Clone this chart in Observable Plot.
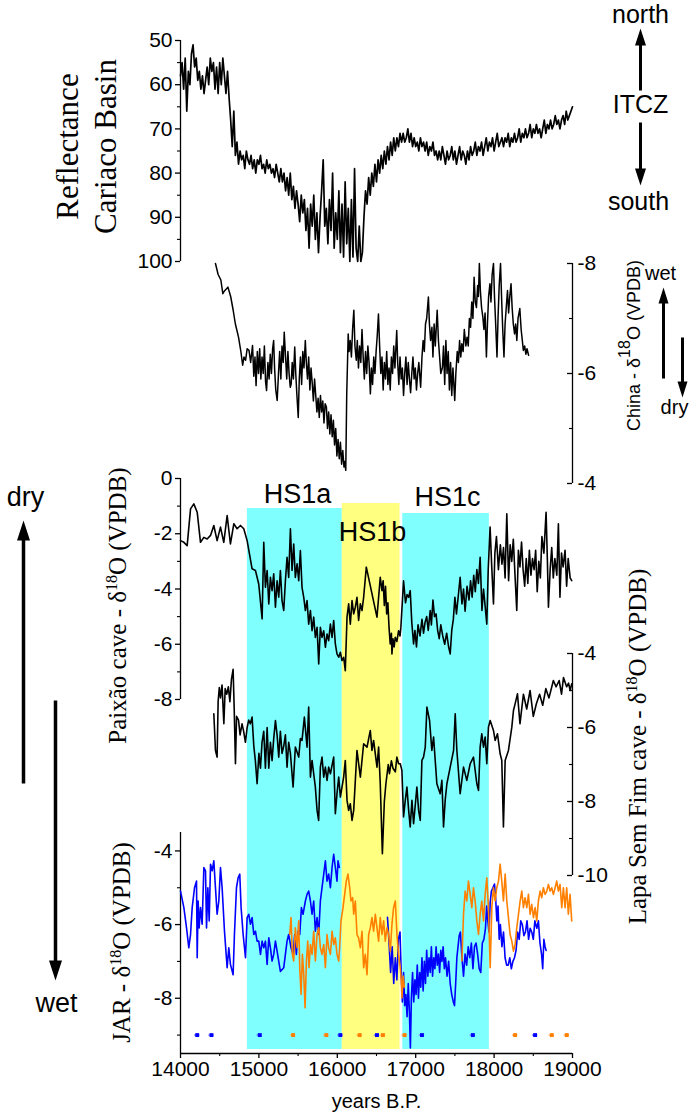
<!DOCTYPE html>
<html><head><meta charset="utf-8">
<script src="https://cdn.jsdelivr.net/npm/d3@7"></script>
<script src="https://cdn.jsdelivr.net/npm/@observablehq/plot@0.6"></script>
<style>
html,body{margin:0;padding:0;background:#fff;overflow:hidden;}
#chart{position:relative;width:700px;height:1119px;}
#chart svg{position:absolute;left:0;top:0;}
</style></head><body><div id="chart"></div>
<script>
// ---------------- DATA ----------------
const yearTicks = [14000, 15000, 16000, 17000, 18000, 19000];
const yearMinor = [14500, 15500, 16500, 17500, 18500];

const bands = [
  {name: "HS1a", start: 14853, end: 16064},
  {name: "HS1b", start: 16064, end: 16800},
  {name: "HS1c", start: 16835, end: 17940}
];

// Cariaco Basin reflectance, sampled every 20 years from 14000
const cariacoStart = 14000, cariacoStep = 20;
const cariacoValues = [
58,55,61,54,66,57,60,53,51,56,54,59,57,61,58,62,59,56,60,54,57,55,61,56,62,55,60,54,58,62,57,63,68,
74,66,76,73,78,75,77,76,79,75,77,78,76,79,77,80,77,78,76,79,78,80,77,79,78,80,79,81,78,80,82,79,82,
80,84,81,85,80,86,83,88,84,87,91,85,89,86,93,88,97,87,92,85,95,89,98,90,84,77,92,88,96,86,93,80,97,
89,95,84,98,87,99,82,96,88,100,86,99,79,97,100,92,100,98,90,84,87,81,85,80,83,78,82,77,80,76,79,75,78,
74,77,73,76,72,75,72,74,71,73,71,73,72,70,73,71,74,72,74,73,75,72,74,73,75,73,76,74,75,73,76,75,77,
75,77,74,76,78,75,77,76,74,77,75,78,76,74,77,75,76,78,75,77,74,76,75,73,76,74,75,73,76,74,72,75,73,
74,72,75,73,71,74,73,72,74,72,73,71,74,72,73,71,73,72,70,73,71,72,70,72,71,69,72,70,71,69,71,70,72,
70,68,71,69,70,68,70,69,67,69,68,70,68,67,69,66,68,67,66,65
];
const cariacoTicks = [50, 60, 70, 80, 90, 100];
const cariacoMinor = [55, 65, 75, 85, 95];

// China speleothem d18O  [year, value]
const china = [
[14446,-8.0],[14480,-7.8],[14515,-7.7],[14540,-7.45],[14560,-7.5],[14605,-7.57],[14640,-7.4],[14672,-7.15],[14700,-6.9],[14740,-6.66],
[14770,-6.4],[14793,-6.15],[14810,-6.3],[14830,-6.24],[14850,-6.45],[14874,-6.42],[14895,-6.2],[14919,-6.51],[14935,-5.95],[14950,-6.3],
[14964,-5.78],[14980,-6.4],[14995,-6.0],[15010,-6.45],[15025,-5.9],[15040,-6.3],[15055,-6.0],[15070,-6.5],[15085,-5.85],[15098,-5.69],
[15115,-6.2],[15130,-5.9],[15145,-6.35],[15160,-6.0],[15175,-6.45],[15188,-6.6],[15200,-6.1],[15215,-5.7],[15233,-5.51],[15250,-6.0],
[15265,-6.4],[15280,-5.9],[15295,-6.5],[15310,-6.2],[15323,-6.75],[15340,-6.3],[15355,-5.9],[15370,-6.4],[15385,-6.0],[15400,-5.75],
[15412,-5.81],[15425,-6.2],[15440,-5.9],[15457,-6.48],[15470,-6.0],[15485,-5.6],[15502,-5.2],[15515,-5.9],[15530,-6.3],[15545,-5.8],
[15560,-6.4],[15575,-6.1],[15592,-6.6],[15605,-6.2],[15620,-5.9],[15635,-6.3],[15650,-5.7],[15665,-6.1],[15681,-5.81],[15695,-5.5],
[15710,-5.9],[15725,-5.6],[15740,-5.3],[15755,-5.55],[15770,-5.2],[15785,-5.6],[15800,-5.3],[15815,-5.5],[15830,-5.1],[15845,-5.45],
[15861,-5.39],[15875,-5.0],[15890,-5.3],[15905,-4.9],[15920,-5.25],[15935,-4.85],[15950,-5.15],[15965,-4.7],[15980,-5.0],[15995,-4.5],
[16010,-4.8],[16025,-4.45],[16040,-4.75],[16055,-4.35],[16070,-4.6],[16085,-4.3],[16095,-4.4],[16108,-4.24],[16120,-5.6],[16139,-6.72],
[16150,-6.4],[16165,-6.6],[16180,-6.3],[16195,-6.8],[16211,-7.15],[16225,-6.5],[16242,-6.24],[16255,-6.6],[16270,-6.1],[16285,-6.5],
[16300,-6.2],[16315,-6.8],[16330,-6.3],[16345,-5.9],[16360,-6.4],[16375,-6.0],[16390,-6.5],[16405,-6.2],[16422,-5.63],[16435,-6.1],
[16450,-5.8],[16465,-6.3],[16480,-6.0],[16495,-6.4],[16510,-6.7],[16525,-7.08],[16540,-6.5],[16555,-6.0],[16570,-6.3],[16585,-5.7],
[16600,-6.2],[16615,-5.9],[16630,-6.4],[16645,-5.8],[16660,-6.1],[16675,-5.7],[16690,-6.3],[16705,-6.0],[16720,-6.5],[16735,-6.1],
[16758,-6.78],[16770,-6.2],[16785,-5.8],[16800,-6.3],[16815,-5.9],[16830,-6.1],[16845,-5.6],[16860,-6.0],[16875,-6.3],[16890,-5.8],
[16905,-6.2],[16920,-5.9],[16935,-5.65],[16950,-6.0],[16965,-6.3],[16980,-5.9],[16995,-6.1],[17010,-5.7],[17025,-6.0],[17040,-6.2],
[17063,-5.75],[17080,-6.3],[17095,-6.6],[17110,-6.4],[17125,-6.9],[17140,-7.0],[17162,-7.39],[17175,-6.9],[17190,-6.6],[17207,-6.84],
[17220,-6.3],[17235,-6.9],[17250,-6.5],[17274,-7.15],[17290,-6.6],[17305,-6.3],[17320,-6.0],[17341,-6.11],[17355,-6.5],[17370,-5.8],
[17385,-6.6],[17400,-6.0],[17415,-6.4],[17430,-5.7],[17445,-6.2],[17460,-5.6],[17475,-6.1],[17498,-5.51],[17512,-6.0],[17530,-6.4],
[17545,-6.2],[17560,-6.6],[17575,-6.3],[17588,-6.54],[17605,-6.4],[17620,-6.8],[17640,-6.5],[17655,-6.66],[17670,-6.5],[17685,-7.0],
[17700,-6.84],[17715,-7.3],[17730,-7.0],[17745,-7.75],[17760,-7.3],[17775,-7.2],[17790,-7.6],[17800,-7.4],[17812,-8.0],[17825,-7.5],
[17840,-7.2],[17857,-7.02],[17870,-6.8],[17885,-7.1],[17902,-6.3],[17915,-6.9],[17930,-7.4],[17947,-7.63],[17960,-7.3],[17975,-7.8],
[17992,-8.0],[18005,-7.4],[18020,-6.9],[18037,-6.3],[18050,-7.0],[18065,-7.6],[18082,-8.0],[18095,-7.4],[18110,-6.8],[18126,-6.3],
[18140,-6.9],[18155,-7.2],[18171,-7.51],[18185,-7.1],[18200,-7.4],[18216,-7.63],[18230,-7.2],[18245,-6.9],[18261,-6.72],[18275,-6.9],
[18290,-6.6],[18305,-7.0],[18328,-7.18],[18345,-6.8],[18360,-6.6],[18373,-6.42],[18390,-6.5],[18405,-6.35],[18420,-6.45],[18440,-6.33]
];
const chinaTicks = [-8, -6, -4];
const chinaMinor = [-7, -5];

// Paixao cave d18O [year, value]
const paixao = [
[14000,-2.25],[14043,-2.31],[14085,-2.43],[14128,-1.1],[14170,-0.92],[14213,-1.22],[14255,-2.31],[14298,-2.13],[14340,-2.19],[14383,-2.06],
[14425,-1.7],[14467,-2.25],[14510,-1.76],[14552,-2.31],[14595,-1.34],[14637,-2.37],[14680,-1.64],[14722,-1.82],[14765,-1.7],[14807,-1.82],
[14850,-2.25],[14913,-3.27],[14956,-3.33],[14998,-3.82],[15041,-5.08],[15062,-2.31],[15083,-3.94],[15105,-3.33],[15126,-4.54],[15147,-3.58],
[15168,-4.06],[15189,-3.45],[15211,-4.66],[15232,-3.7],[15253,-4.3],[15274,-3.33],[15295,-4.42],[15317,-4.78],[15338,-3.7],[15359,-2.85],
[15380,-3.58],[15402,-1.82],[15423,-3.33],[15444,-2.37],[15465,-3.58],[15487,-3.09],[15508,-3.7],[15529,-2.61],[15550,-3.94],[15572,-4.3],
[15593,-4.78],[15614,-4.42],[15635,-5.27],[15657,-4.78],[15678,-5.51],[15699,-5.02],[15720,-5.75],[15742,-5.39],[15763,-6.71],[15784,-5.39],
[15805,-5.75],[15827,-5.51],[15848,-6.11],[15869,-5.63],[15890,-5.87],[15912,-5.27],[15933,-5.75],[15954,-5.14],[15975,-5.99],[15996,-6.35],
[16018,-6.47],[16039,-6.29],[16060,-6.59],[16081,-6.47],[16102,-6.96],[16124,-5.02],[16145,-4.54],[16166,-5.27],[16188,-4.42],[16209,-4.9],
[16230,-4.66],[16251,-4.3],[16272,-5.14],[16294,-4.54],[16315,-4.78],[16336,-4.3],[16370,-3.21],[16506,-5.02],[16548,-3.58],[16570,-4.06],
[16585,-3.7],[16600,-4.6],[16615,-3.9],[16630,-4.9],[16645,-4.5],[16660,-5.4],[16675,-5.99],[16690,-5.6],[16697,-6.35],[16710,-5.8],
[16725,-6.1],[16739,-5.75],[16760,-5.9],[16782,-5.51],[16800,-5.7],[16811,-5.39],[16845,-3.7],[16870,-4.5],[16890,-4.2],[16910,-4.3],
[16930,-4.06],[16950,-5.2],[16973,-5.99],[16990,-5.5],[17010,-6.1],[17030,-5.3],[17055,-5.7],[17080,-5.1],[17100,-5.6],[17120,-5.2],
[17140,-5.0],[17160,-5.5],[17185,-4.78],[17200,-5.3],[17220,-4.4],[17240,-5.0],[17260,-4.9],[17280,-5.5],[17300,-5.8],[17320,-5.3],
[17345,-5.7],[17370,-6.0],[17395,-5.6],[17420,-6.1],[17440,-6.35],[17460,-5.5],[17480,-5.1],[17500,-4.3],[17520,-4.9],[17545,-4.2],
[17567,-3.58],[17590,-4.54],[17610,-4.0],[17630,-4.8],[17655,-3.9],[17680,-4.4],[17700,-3.7],[17720,-4.3],[17740,-3.5],[17760,-4.1],
[17780,-3.3],[17800,-3.8],[17822,-2.85],[17845,-4.78],[17865,-4.0],[17885,-4.6],[17907,-5.27],[17925,-3.3],[17949,-1.76],[17970,-3.2],
[17992,-4.54],[18010,-2.7],[18030,-2.1],[18055,-3.3],[18080,-2.4],[18100,-3.1],[18120,-2.5],[18140,-3.6],[18162,-1.28],[18185,-3.7],
[18205,-2.4],[18225,-3.0],[18245,-2.2],[18265,-3.4],[18289,-4.78],[18310,-2.6],[18330,-3.2],[18350,-2.3],[18370,-3.3],[18390,-3.9],
[18410,-2.9],[18430,-3.8],[18450,-2.6],[18470,-3.5],[18490,-2.9],[18510,-3.3],[18530,-2.6],[18550,-4.1],[18570,-3.0],[18590,-3.6],
[18610,-2.1],[18635,-2.7],[18663,-1.22],[18680,-3.0],[18693,-4.66],[18715,-3.3],[18735,-2.5],[18755,-3.6],[18775,-2.9],[18800,-3.5],
[18820,-1.64],[18840,-4.3],[18860,-2.7],[18880,-3.2],[18905,-2.6],[18925,-3.9],[18945,-2.9],[18970,-3.6],[18990,-3.7]
];
const paixaoTicks = [0, -2, -4, -6, -8];
const paixaoMinor = [-1, -3, -5, -7];

// Lapa Sem Fim cave d18O [year, value]
const lapa = [
[14425,-5.63],[14446,-6.62],[14467,-6.8],[14480,-5.3],[14495,-4.92],[14510,-5.2],[14530,-4.85],[14553,-5.9],[14570,-4.95],[14590,-5.1],
[14610,-4.9],[14630,-5.3],[14650,-4.7],[14671,-4.43],[14685,-5.5],[14701,-6.98],[14715,-5.7],[14740,-5.8],[14760,-6.2],[14785,-5.9],
[14805,-6.1],[14828,-6.4],[14850,-6.0],[14870,-5.8],[14890,-5.9],[14913,-5.72],[14935,-6.5],[14955,-6.9],[14977,-7.52],[15000,-6.7],
[15020,-7.1],[15040,-6.4],[15062,-6.1],[15083,-7.1],[15105,-6.0],[15126,-7.1],[15147,-6.4],[15168,-6.9],[15189,-6.3],[15211,-5.81],
[15232,-6.2],[15253,-6.8],[15274,-6.1],[15295,-6.7],[15317,-6.5],[15338,-6.2],[15359,-7.07],[15380,-6.4],[15402,-6.7],[15436,-7.61],
[15465,-6.53],[15508,-6.8],[15529,-6.3],[15550,-6.35],[15580,-5.72],[15614,-6.53],[15635,-5.45],[15657,-7.34],[15678,-6.89],[15699,-7.25],
[15720,-7.61],[15742,-8.24],[15762,-8.51],[15784,-7.07],[15805,-6.8],[15827,-7.34],[15848,-7.07],[15869,-7.43],[15890,-7.07],[15912,-7.25],
[15954,-6.8],[15975,-8.33],[15996,-7.79],[16018,-7.34],[16039,-7.88],[16060,-7.61],[16081,-7.34],[16102,-6.89],[16124,-7.97],[16145,-8.24],
[16166,-8.06],[16188,-8.51],[16209,-8.24],[16251,-6.62],[16294,-7.34],[16336,-6.44],[16379,-6.53],[16421,-6.08],[16442,-6.62],[16463,-6.35],
[16506,-7.07],[16527,-6.53],[16548,-7.52],[16575,-9.41],[16600,-8.0],[16620,-7.52],[16650,-7.0],[16665,-7.25],[16690,-6.9],[16710,-7.1],
[16740,-7.2],[16760,-6.8],[16782,-6.98],[16803,-6.98],[16824,-7.16],[16845,-8.42],[16867,-7.97],[16888,-7.61],[16910,-8.24],[16930,-8.69],
[16952,-7.97],[16973,-8.6],[17015,-7.61],[17037,-8.24],[17058,-8.51],[17079,-6.89],[17100,-6.8],[17122,-6.53],[17143,-5.45],[17177,-5.81],
[17206,-6.62],[17228,-6.26],[17270,-7.52],[17312,-7.79],[17334,-7.43],[17355,-8.69],[17376,-7.97],[17398,-7.52],[17440,-7.07],[17483,-6.62],
[17504,-5.63],[17525,-6.62],[17567,-7.79],[17610,-7.07],[17652,-7.43],[17695,-6.98],[17737,-6.8],[17780,-7.52],[17801,-7.7],[17822,-6.53],
[17843,-6.17],[17865,-6.53],[17886,-6.26],[17907,-6.98],[17928,-5.99],[17950,-5.81],[17992,-6.08],[18013,-6.35],[18043,-6.17],[18077,-6.71],
[18098,-6.89],[18119,-8.69],[18141,-6.89],[18183,-6.62],[18226,-5.99],[18247,-5.54],[18268,-5.36],[18298,-5.09],[18330,-5.9],[18374,-5.1],
[18416,-5.5],[18459,-5.0],[18500,-5.7],[18540,-5.35],[18580,-5.1],[18620,-5.4],[18660,-4.95],[18700,-5.2],[18756,-4.73],[18790,-4.9],
[18830,-4.73],[18860,-5.1],[18885,-4.65],[18925,-4.9],[18950,-4.8],[18970,-5.0],[18990,-4.82]
];
const lapaTicks = [-4, -6, -8, -10];
const lapaMinor = [-5, -7, -9];

// JAR d18O, blue record (two segments) and orange record (two segments)
const jarBlueA = [
[14000,-5.09],[14043,-5.54],[14077,-6.09],[14106,-6.63],[14128,-6.27],[14149,-5.54],[14179,-5.0],[14204,-4.82],[14213,-6.9],[14225,-5.36],
[14238,-6.09],[14255,-5.54],[14276,-5.99],[14298,-4.45],[14319,-4.54],[14332,-6.09],[14349,-5.0],[14366,-5.9],[14383,-4.36],[14404,-4.54],
[14425,-4.27],[14446,-5.0],[14467,-5.72],[14489,-5.36],[14510,-4.45],[14531,-5.0],[14561,-6.18],[14595,-7.17],[14616,-6.63],[14637,-7.08],
[14671,-7.36],[14688,-6.27],[14714,-5.0],[14735,-4.73],[14756,-4.63],[14773,-5.54],[14799,-6.27],[14829,-6.9],[14850,-5.81],[14871,-5.72],
[14892,-5.99],[14913,-5.81],[14935,-6.27],[14956,-6.18],[14977,-6.45],[14998,-6.45],[15020,-6.81],[15041,-6.45],[15062,-6.63],[15083,-6.45],
[15105,-7.08],[15126,-6.36],[15147,-6.63],[15168,-6.99],[15189,-6.81],[15211,-6.45],[15232,-6.72],[15274,-7.27],[15317,-7.17],[15359,-6.45],
[15380,-6.27],[15410,-6.63],[15436,-6.81],[15457,-6.27],[15478,-6.81],[15499,-6.18],[15521,-6.27],[15542,-5.54],[15563,-5.72],[15593,-5.36],
[15614,-5.18],[15635,-5.09],[15657,-5.36],[15678,-5.72],[15699,-5.36],[15720,-6.18],[15742,-5.81],[15763,-6.27],[15784,-5.36],[15805,-5.0],
[15827,-4.63],[15848,-4.27],[15869,-4.82],[15890,-4.63],[15912,-5.0],[15933,-4.45],[15954,-4.09],[15975,-4.45],[15996,-4.82],[16009,-4.27],
[16026,-4.45]
];
const jarBlueB = [
[16640,-5.8],[16660,-6.5],[16680,-7.3],[16700,-6.6],[16720,-7.6],[16740,-6.9],[16760,-7.5],[16780,-6.4],[16800,-6.2],[16815,-7.3],
[16830,-8.1],[16845,-7.3],[16860,-8.2],[16875,-7.9],[16890,-8.5],[16905,-7.6],[16920,-8.4],[16932,-9.35],[16945,-8.0],[16960,-7.3],
[16975,-8.1],[16990,-7.5],[17005,-7.9],[17020,-7.1],[17035,-8.0],[17050,-7.3],[17065,-7.7],[17080,-6.9],[17095,-7.8],[17110,-7.0],
[17125,-7.6],[17140,-6.7],[17155,-7.4],[17170,-6.9],[17185,-7.3],[17200,-6.6],[17215,-7.4],[17230,-6.9],[17245,-7.2],[17260,-6.6],
[17275,-7.1],[17290,-6.8],[17305,-7.3],[17320,-6.7],[17335,-7.0],[17350,-6.6],[17365,-7.2],[17380,-6.9],[17400,-7.4],[17420,-7.0],
[17440,-7.6],[17460,-7.9],[17480,-8.1],[17495,-8.2],[17510,-7.6],[17525,-6.9],[17540,-6.6],[17555,-6.3],[17570,-6.2],[17590,-6.9],
[17610,-7.4],[17630,-6.8],[17650,-7.1],[17670,-6.6],[17690,-6.9],[17710,-6.5],[17730,-7.2],[17750,-6.6],[17770,-6.5],[17790,-6.8],
[17810,-7.2],[17830,-7.3],[17850,-6.5],[17870,-6.4],[17890,-6.1],[17905,-5.5],[17920,-5.9],[17935,-6.2],[17950,-5.4],[17965,-5.1],
[17985,-5.0],[18005,-4.9],[18020,-5.3],[18035,-5.9],[18050,-5.5],[18065,-6.4],[18080,-6.0],[18100,-6.6],[18120,-6.2],[18140,-6.9],
[18160,-7.1],[18180,-7.1],[18200,-6.9],[18220,-7.2],[18240,-7.0],[18260,-6.9],[18280,-6.7],[18300,-6.2],[18320,-6.4],[18340,-5.9],
[18360,-6.0],[18380,-6.3],[18400,-6.2],[18420,-5.9],[18440,-6.4],[18460,-6.1],[18480,-6.2],[18500,-6.4],[18520,-5.9],[18545,-6.1],
[18565,-5.9],[18585,-6.5],[18605,-6.8],[18620,-7.2],[18635,-6.4],[18650,-6.6],[18663,-6.7]
];
const jarOrangeA = [
[15393,-6.27],[15410,-5.81],[15427,-6.81],[15444,-6.99],[15465,-6.09],[15487,-6.63],[15508,-5.9],[15521,-7.17],[15538,-7.9],[15555,-6.81],
[15572,-7.36],[15589,-8.26],[15606,-6.99],[15623,-6.45],[15640,-7.17],[15657,-6.54],[15678,-6.81],[15699,-6.18],[15720,-6.99],[15742,-6.27],
[15763,-6.09],[15784,-6.63],[15805,-6.81],[15827,-6.54],[15848,-7.17],[15869,-6.27],[15890,-6.63],[15912,-6.81],[15933,-6.18],[15954,-6.54],
[15975,-6.36],[15996,-6.81],[16018,-6.99],[16030,-6.63],[16047,-5.9],[16073,-5.54],[16094,-5.18],[16115,-4.82],[16136,-4.63],[16158,-5.0],
[16175,-5.36],[16196,-5.27],[16209,-5.72],[16230,-5.36],[16251,-6.27],[16272,-6.36],[16294,-6.63],[16315,-6.18],[16336,-7.17],[16357,-6.81],
[16379,-7.36],[16400,-6.27],[16421,-6.09],[16442,-5.81],[16463,-6.18],[16485,-5.72],[16506,-6.09],[16527,-6.45],[16548,-5.81],[16570,-6.27],
[16591,-5.9],[16612,-6.45],[16633,-6.09],[16655,-6.27],[16676,-6.72],[16697,-5.99],[16718,-5.54],[16740,-5.36],[16761,-6.27],[16782,-6.81],
[16803,-7.17],[16815,-7.5],[16825,-7.99],[16840,-7.4],[16855,-7.7]
];
const jarOrangeB = [
[17589,-6.99],[17610,-5.72],[17631,-5.09],[17652,-5.36],[17673,-4.82],[17695,-5.18],[17716,-5.54],[17737,-5.0],[17758,-5.36],[17780,-5.9],
[17801,-6.27],[17822,-5.72],[17843,-5.36],[17865,-5.9],[17886,-5.18],[17907,-4.73],[17928,-5.54],[17950,-7.17],[17971,-5.54],[17992,-5.0],
[18013,-5.36],[18034,-5.0],[18056,-4.82],[18077,-4.36],[18098,-4.82],[18119,-5.36],[18141,-4.63],[18162,-5.36],[18183,-5.81],[18204,-6.27],
[18226,-6.45],[18247,-6.72],[18268,-6.54],[18289,-6.09],[18311,-5.72],[18332,-5.36],[18353,-5.09],[18374,-5.54],[18395,-5.27],[18417,-5.54],
[18438,-5.18],[18459,-5.72],[18480,-5.45],[18502,-5.81],[18523,-5.54],[18544,-5.9],[18565,-5.36],[18587,-5.09],[18608,-5.27],[18629,-5.0],
[18650,-5.18],[18672,-5.09],[18693,-4.91],[18714,-5.09],[18735,-5.0],[18756,-5.18],[18778,-5.0],[18799,-4.82],[18820,-5.09],[18841,-4.91],
[18863,-5.54],[18884,-5.0],[18905,-5.54],[18926,-5.0],[18947,-5.72],[18969,-5.18],[18990,-5.9]
];
// dating points (plotted on the -9 line)
const jarBlueDates = [14213, 14395, 15011, 16039, 16506, 17080, 17729, 18523];
const jarOrangeDates = [15436, 15860, 16285, 16582, 16858, 18268, 18736, 18927];
const jarDateLevel = -9;
const jarTicks = [-4, -6, -8];
const jarMinor = [-5, -7, -9];

// ---------------- STYLE ----------------
const W = 700, H = 1119, ML = 180, MR = 128;
const SANS = "Liberation Sans, Arial, Helvetica, sans-serif";
const SERIF = "Liberation Serif, Times New Roman, Times, serif";
const TICKFS = 21;
const BLUE = "#0000ff", ORANGE = "#ff8000", CYAN = "#80ffff", YELLOW = "#ffff80";
const XMIN = yearTicks[0], XMAX = yearTicks[yearTicks.length - 1];

const cariaco = cariacoValues.map((v, i) => [cariacoStart + i * cariacoStep, v]);

function panel({top, bottom, domain, marks}) {
  return Plot.plot({
    width: W, height: H,
    marginLeft: ML, marginRight: MR, marginTop: top, marginBottom: H - bottom,
    x: {domain: [XMIN, XMAX], axis: null},
    y: {domain, axis: null},
    style: {background: "transparent", overflow: "visible", fontFamily: SANS},
    marks
  });
}

function yAxisMarks(side, ticks, minor, lo, hi) {
  const xa = side === "left" ? XMIN : XMAX;
  return [
    Plot.ruleX([xa], {y1: lo, y2: hi, stroke: "black", strokeWidth: 1.3}),
    Plot.ruleY(ticks, {y: d => d, x1: xa, x2: xa, insetLeft: -5, stroke: "black", strokeWidth: 1.3}),
    Plot.ruleY(minor, {y: d => d, x1: xa, x2: xa, insetLeft: -3, stroke: "black", strokeWidth: 1.1}),
    Plot.text(ticks, {
      x: xa, y: d => d, text: d => String(d),
      textAnchor: side === "left" ? "end" : "start",
      dx: side === "left" ? -8 : 5,
      fontSize: TICKFS, fontFamily: SANS, fill: "black"
    })
  ];
}

const line = (data, color, w = 1.6) => Plot.line(data, {x: d => d[0], y: d => d[1], stroke: color, strokeWidth: w, strokeLinejoin: "round"});

const chart = document.getElementById("chart");

// shading bands
chart.appendChild(Plot.plot({
  width: W, height: H, marginLeft: ML, marginRight: MR, marginTop: 503, marginBottom: H - 1049,
  x: {domain: [XMIN, XMAX], axis: null},
  style: {background: "white"},
  marks: [
    Plot.rect([bands[0]], {x1: "start", x2: "end", fill: CYAN, insetTop: 5}),
    Plot.rect([bands[1]], {x1: "start", x2: "end", fill: YELLOW, insetTop: 0}),
    Plot.rect([bands[2]], {x1: "start", x2: "end", fill: CYAN, insetTop: 10})
  ]
}));

// Cariaco
chart.appendChild(panel({top: 40, bottom: 261, domain: [100, 50], marks: [
  ...yAxisMarks("left", cariacoTicks, cariacoMinor, 50, 100),
  line(cariaco, "black", 1.7)
]}));

// China
chart.appendChild(panel({top: 263, bottom: 483, domain: [-4, -8], marks: [
  ...yAxisMarks("right", chinaTicks, chinaMinor, -8, -4),
  line(china, "black", 1.5)
]}));

// Paixao
chart.appendChild(panel({top: 478, bottom: 699, domain: [-8, 0], marks: [
  ...yAxisMarks("left", paixaoTicks, paixaoMinor, -8, 0),
  line(paixao, "black", 1.6)
]}));

// Lapa Sem Fim
chart.appendChild(panel({top: 653, bottom: 875, domain: [-10, -4], marks: [
  ...yAxisMarks("right", lapaTicks, lapaMinor, -10, -4),
  line(lapa, "black", 1.6)
]}));

// JAR + x axis
chart.appendChild(panel({top: 832, bottom: 1053, domain: [-9.5, -3.5], marks: [
  ...yAxisMarks("left", jarTicks, jarMinor, -9.5, -3.5),
  line(jarBlueA, BLUE, 1.6),
  line(jarBlueB, BLUE, 1.6),
  line(jarOrangeA, ORANGE, 1.6),
  line(jarOrangeB, ORANGE, 1.6),
  Plot.ruleY(jarBlueDates, {x1: d => d - 35, x2: d => d + 35, y: jarDateLevel, stroke: "#7070ff", strokeWidth: 1.2}),
  Plot.ruleY(jarOrangeDates, {x1: d => d - 35, x2: d => d + 35, y: jarDateLevel, stroke: "#ffb060", strokeWidth: 1.2}),
  Plot.dot(jarBlueDates, {x: d => d, y: jarDateLevel, symbol: "square", r: 2.2, fill: BLUE}),
  Plot.dot(jarOrangeDates, {x: d => d, y: jarDateLevel, symbol: "square", r: 2.2, fill: ORANGE}),
  // x axis
  Plot.ruleY([-9.5], {x1: XMIN, x2: XMAX, stroke: "black", strokeWidth: 1.3}),
  Plot.ruleX(yearTicks, {x: d => d, y1: -9.5, y2: -9.5, insetBottom: -5, stroke: "black", strokeWidth: 1.3}),
  Plot.ruleX(yearMinor, {x: d => d, y1: -9.5, y2: -9.5, insetBottom: -3, stroke: "black", strokeWidth: 1.1}),
  Plot.text(yearTicks, {x: d => d, y: -9.5, text: d => String(d), dy: 16, fontSize: TICKFS, fontFamily: SANS, fill: "black"}),
  Plot.text(["years B.P."], {frameAnchor: "bottom", dy: 54, fontSize: 20, fontFamily: SANS, fill: "black"})
]}));

// annotations (pixel space)
function arrowShape(headW, headL, shaftW) {
  return {draw(ctx, l) {
    const hw = headW / 2, sw = shaftW / 2, b = -(l - headL);
    ctx.moveTo(-sw, 0); ctx.lineTo(-sw, b); ctx.lineTo(-hw, b); ctx.lineTo(0, -l);
    ctx.lineTo(hw, b); ctx.lineTo(sw, b); ctx.lineTo(sw, 0); ctx.closePath();
  }};
}
const arrows = [
  {x: 23, y: 783, len: 263, rot: 0, hw: 13, hl: 20, sw: 3.5},
  {x: 55, y: 700, len: 280, rot: 180, hw: 13, hl: 20, sw: 3.5},
  {x: 640, y: 90, len: 62, rot: 0, hw: 11, hl: 17, sw: 3},
  {x: 640, y: 122, len: 63, rot: 180, hw: 11, hl: 17, sw: 3},
  {x: 663, y: 378, len: 91, rot: 0, hw: 10, hl: 16, sw: 3},
  {x: 682, y: 337, len: 60, rot: 180, hw: 10, hl: 16, sw: 3}
];
function arrowMarks() {
  return arrows.map(a => Plot.vector([a], {x: "x", y: "y", length: a.len, rotate: a.rot, anchor: "start",
    shape: arrowShape(a.hw, a.hl, a.sw), fill: "black", stroke: "none"}));
}
const labels = [
  {x: 84, y: 146, t: "Reflectance\nCariaco Basin", fs: 31, ff: SERIF, rot: -90},
  {x: 116, y: 605, t: "Paixão cave - δ^18O (VPDB)", fs: 25, ff: SERIF, rot: -90},
  {x: 120, y: 942, t: "JAR - δ^18O (VPDB)", fs: 25, ff: SERIF, rot: -90},
  {x: 636, y: 746, t: "Lapa Sem Fim cave - δ^18O (VPDB)", fs: 25, ff: SERIF, rot: -90},
  {x: 632, y: 345, t: "China - δ^18O (VPDB)", fs: 18, ff: SANS, rot: -90},
  {x: 640, y: 13, t: "north", fs: 25, ff: SANS, rot: 0},
  {x: 640, y: 103, t: "ITCZ", fs: 25, ff: SANS, rot: 0},
  {x: 638, y: 200, t: "south", fs: 25, ff: SANS, rot: 0},
  {x: 660, y: 272, t: "wet", fs: 20, ff: SANS, rot: 0},
  {x: 674, y: 406, t: "dry", fs: 20, ff: SANS, rot: 0},
  {x: 25, y: 495, t: "dry", fs: 27, ff: SANS, rot: 0},
  {x: 56, y: 1001, t: "wet", fs: 27, ff: SANS, rot: 0},
  {x: 297, y: 492, t: "HS1a", fs: 27, ff: SANS, rot: 0},
  {x: 372, y: 530, t: "HS1b", fs: 27, ff: SANS, rot: 0},
  {x: 447, y: 495, t: "HS1c", fs: 27, ff: SANS, rot: 0}
];
const labelMarks = labels.map(l => Plot.text([l], {x: "x", y: "y", text: "t", rotate: l.rot, fontSize: l.fs,
  fontFamily: l.ff, fill: "black", lineHeight: 1.22}));

function annPlot(useArrows) {
  return Plot.plot({
    width: W, height: H, margin: 0,
    x: {type: "identity", axis: null}, y: {type: "identity", axis: null},
    style: {background: "transparent", overflow: "visible"},
    marks: [...(useArrows ? arrowMarks() : arrows.map(a => Plot.arrow([a], {
      x1: "x", y1: "y", x2: "x", y2: d => d.y + (d.rot === 0 ? -d.len : d.len), strokeWidth: d => d.sw, stroke: "black", headLength: 14}))),
      ...labelMarks]
  });
}
let ann;
try { ann = annPlot(true); } catch (e) { ann = annPlot(false); }
chart.appendChild(ann);

// superscripts for "δ18O"
d3.select(chart).selectAll("text").each(function() {
  const t = this.textContent;
  if (!t.includes("^")) return;
  const fs = parseFloat(this.getAttribute("font-size")) || 25;
  const [pre, rest] = t.split("^");
  const sup = rest.slice(0, 2), post = rest.slice(2);
  const el = d3.select(this);
  el.selectAll("*").remove();
  el.text(null);
  el.append("tspan").text(pre);
  el.append("tspan").attr("font-size", Math.round(fs * 0.62)).attr("dy", -fs * 0.38).text(sup);
  el.append("tspan").attr("dy", fs * 0.38).text(post);
});
</script></body></html>
